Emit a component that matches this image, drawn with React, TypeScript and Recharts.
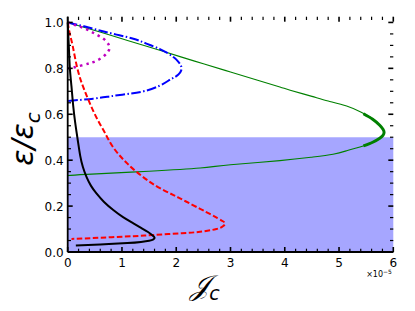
import { LineChart, Line, XAxis, YAxis, ReferenceArea } from "recharts"

const xMajor=[0,1,2,3,4,5,6]
const yMajor=[0,0.2,0.4,0.6,0.8,1.0]
const xMinor=Array.from({length:31},(_,i)=>i*0.2)
const yMinor=Array.from({length:21},(_,i)=>i*0.05)

const black=[
 {x:0,y:1.0},{x:0.02,y:0.9},{x:0.04,y:0.8},{x:0.07,y:0.72},{x:0.1,y:0.64},{x:0.14,y:0.56},
 {x:0.19,y:0.48},{x:0.23,y:0.42},{x:0.28,y:0.37},{x:0.35,y:0.325},{x:0.43,y:0.288},{x:0.53,y:0.255},
 {x:0.67,y:0.218},{x:0.84,y:0.183},{x:1.02,y:0.152},{x:1.21,y:0.125},{x:1.36,y:0.104},
 {x:1.48,y:0.087},{x:1.56,y:0.073},{x:1.6,y:0.063},{x:1.58,y:0.055},{x:1.5,y:0.049},
 {x:1.35,y:0.044},{x:1.1,y:0.039},{x:0.6,y:0.033},{x:0.15,y:0.028}
]

const red=[
 {x:0,y:1.0},{x:0.04,y:0.95},{x:0.09,y:0.9},{x:0.14,y:0.84},{x:0.2,y:0.78},{x:0.26,y:0.735},
 {x:0.32,y:0.698},{x:0.39,y:0.658},{x:0.47,y:0.615},{x:0.56,y:0.572},{x:0.66,y:0.53},{x:0.75,y:0.49},
 {x:0.85,y:0.452},{x:0.97,y:0.417},{x:1.1,y:0.385},{x:1.27,y:0.349},{x:1.48,y:0.311},{x:1.7,y:0.278},
 {x:1.95,y:0.248},{x:2.18,y:0.22},{x:2.44,y:0.188},{x:2.62,y:0.166},{x:2.76,y:0.148},{x:2.86,y:0.134},
 {x:2.9,y:0.124},{x:2.86,y:0.112},{x:2.74,y:0.1},{x:2.44,y:0.088},{x:2.1,y:0.082},{x:1.58,y:0.074},
 {x:1.21,y:0.069},{x:0.59,y:0.062},{x:0.07,y:0.057}
]

const blue=[
 {x:0,y:1.0},{x:0.3,y:0.983},{x:0.59,y:0.965},{x:0.9,y:0.947},{x:1.21,y:0.929},{x:1.45,y:0.908},
 {x:1.7,y:0.884},{x:1.85,y:0.865},{x:1.96,y:0.847},{x:2.04,y:0.828},{x:2.09,y:0.81},{x:2.09,y:0.79},
 {x:2.04,y:0.773},{x:1.96,y:0.76},{x:1.88,y:0.75},{x:1.7,y:0.725},{x:1.4,y:0.7},{x:1.09,y:0.688},
 {x:0.78,y:0.678},{x:0.47,y:0.668},{x:0,y:0.658}
]

const magenta=[
 {x:0,y:1.0},{x:0.12,y:0.99},{x:0.32,y:0.973},{x:0.5,y:0.951},{x:0.66,y:0.929},{x:0.75,y:0.905},
 {x:0.77,y:0.89},{x:0.75,y:0.875},{x:0.66,y:0.852},{x:0.52,y:0.832},{x:0.4,y:0.822},{x:0.26,y:0.813},
 {x:0.1,y:0.803},{x:0,y:0.8}
]

const green=[
 {x:0,y:1.0},{x:0.5,y:0.965},{x:1.0,y:0.929},{x:1.5,y:0.893},{x:2.07,y:0.851},{x:2.5,y:0.82},
 {x:3.0,y:0.784},{x:3.5,y:0.748},{x:3.91,y:0.719},{x:4.1,y:0.705},{x:4.5,y:0.678},{x:4.8,y:0.658},
 {x:5.14,y:0.636},{x:5.4,y:0.61},{x:5.57,y:0.588},{x:5.68,y:0.568},{x:5.75,y:0.552},{x:5.81,y:0.535},
 {x:5.83,y:0.522},{x:5.81,y:0.508},{x:5.75,y:0.496},{x:5.57,y:0.473},{x:5.3,y:0.452},{x:5.14,y:0.441},
 {x:4.89,y:0.426},{x:4.5,y:0.413},{x:3.91,y:0.398},{x:3.0,y:0.38},{x:2.44,y:0.366},{x:1.5,y:0.352},
 {x:0.35,y:0.338},{x:0,y:0.333}
]

const greenNose=[
 {x:5.45,y:0.602},{x:5.62,y:0.578},{x:5.75,y:0.552},{x:5.81,y:0.535},{x:5.83,y:0.522},
 {x:5.81,y:0.508},{x:5.75,y:0.496},{x:5.62,y:0.478},{x:5.45,y:0.462}
]

const font="DejaVu Sans"
const X_MAX=6
const Y_MAX=1.025

// plot box (follows from the chart margins and axis sizes below)
const L=67.7, R=393.3, T=16.7, B=252
const px=(v:number)=>L+v*(R-L)/X_MAX
const py=(v:number)=>B-v*(B-T)/Y_MAX
const isMajX=(v:number)=>Math.abs(v-Math.round(v))<1e-6
const isMajY=(v:number)=>Math.abs(v*5-Math.round(v*5))<1e-6

const BottomLabel=(p:any)=>(
 <text x={p.x} y={p.y+15} textAnchor="middle" fontSize={12} fontFamily={font} fill="#000">{p.payload.value}</text>
)

const LeftLabel=(p:any)=>(
 <text x={p.x-4} y={p.y+4.5} textAnchor="end" fontSize={12} fontFamily={font} fill="#000">{Number(p.payload.value).toFixed(1)}</text>
)

export default function App(){

 const ax={stroke:"#000",strokeWidth:1.8}

 return(

  <div style={{position:"absolute",left:0,top:0,width:415,height:311,background:"#fff"}}>

   <LineChart width={415} height={311} margin={{top:T,right:415-R,bottom:0,left:L-60}}>

    <ReferenceArea xAxisId="b" yAxisId="l" x1={0} x2={X_MAX} y1={0} y2={0.5} fill="#0000ff" fillOpacity={0.35} stroke="none"/>

    <XAxis xAxisId="b" dataKey="x" type="number" domain={[0,X_MAX]} ticks={xMajor} interval={0}
     height={311-B} tickSize={0} tickMargin={0} tickLine={false} axisLine={ax} tick={BottomLabel}/>
    <XAxis xAxisId="t" orientation="top" dataKey="x" type="number" domain={[0,X_MAX]} ticks={xMajor} interval={0}
     height={0} tickSize={0} tickLine={false} axisLine={ax} tick={false}/>
    <YAxis yAxisId="l" type="number" domain={[0,Y_MAX]} ticks={yMajor} interval={0}
     width={60} tickSize={0} tickMargin={0} tickLine={false} axisLine={ax} tick={LeftLabel}/>
    <YAxis yAxisId="r" orientation="right" type="number" domain={[0,Y_MAX]} ticks={yMajor} interval={0}
     width={0} tickSize={0} tickLine={false} axisLine={ax} tick={false}/>

    <Line xAxisId="b" yAxisId="l" data={green} dataKey="y" type="natural" stroke="#008000" strokeWidth={1.1} dot={false} isAnimationActive={false}/>
    <Line xAxisId="b" yAxisId="l" data={greenNose} dataKey="y" type="natural" stroke="#008000" strokeWidth={3} dot={false} isAnimationActive={false}/>
    <Line xAxisId="b" yAxisId="l" data={blue} dataKey="y" type="natural" stroke="#0000ff" strokeWidth={2} strokeDasharray="9.6 2.4 1.5 2.4" dot={false} isAnimationActive={false}/>
    <Line xAxisId="b" yAxisId="l" data={magenta} dataKey="y" type="natural" stroke="#bf00bf" strokeWidth={2.5} strokeDasharray="2.5 4" dot={false} isAnimationActive={false}/>
    <Line xAxisId="b" yAxisId="l" data={red} dataKey="y" type="natural" stroke="#ff0000" strokeWidth={2} strokeDasharray="5.5 2.5" dot={false} isAnimationActive={false}/>
    <Line xAxisId="b" yAxisId="l" data={black} dataKey="y" type="natural" stroke="#000" strokeWidth={2} dot={false} isAnimationActive={false}/>

   </LineChart>

   <svg width={415} height={311} style={{position:"absolute",left:0,top:0,pointerEvents:"none"}}>
    {/* inward ticks on all four sides */}
    <g stroke="#000" fill="none">
     {xMinor.map(v=>{
      const m=isMajX(v), h=m?5:3.3, x=px(v)
      return <g key={"x"+v} strokeWidth={m?1.6:1.2}>
       <line x1={x} x2={x} y1={B} y2={B-h}/>
       <line x1={x} x2={x} y1={T} y2={T+h}/>
      </g>
     })}
     {yMinor.map(v=>{
      const m=isMajY(v), w=m?5:3.3, y=py(v)
      return <g key={"y"+v} strokeWidth={m?1.6:1.2}>
       <line x1={L} x2={L+w} y1={y} y2={y}/>
       <line x1={R} x2={R-w} y1={y} y2={y}/>
      </g>
     })}
    </g>
    <text transform="translate(33,139) rotate(-90)" textAnchor="middle" fontSize={30} fontFamily={font} fontStyle="italic">
     ε/ε<tspan fontSize={20} dy={7}>c</tspan>
    </text>
    <text x={205} y={295} textAnchor="middle" fontSize={28} fontFamily={font} fontStyle="italic">
     𝒥<tspan fontSize={19} dy={5}>c</tspan>
    </text>
    <text x={379} y={277} textAnchor="middle" fontSize={8} fontFamily={font}>
     ×10<tspan fontSize={6} dy={-3}>−5</tspan>
    </text>
   </svg>

  </div>

 )
}
